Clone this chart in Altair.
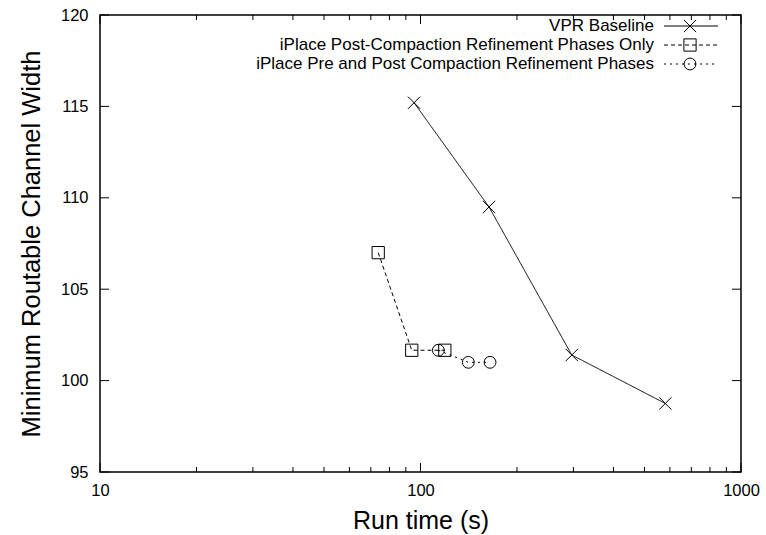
import altair as alt
import pandas as pd

# Run time (s) vs. minimum routable channel width for each placement flow
vpr_time = [95.5, 163.6, 296.5, 580.6]
vpr_width = [115.2, 109.5, 101.4, 98.75]

post_time = [73.8, 93.9, 119.1]
post_width = [107.0, 101.66, 101.66]

prepost_time = [113.7, 141.0, 164.8]
prepost_width = [101.66, 101.0, 101.0]

series_names = [
    "VPR Baseline",
    "iPlace Post-Compaction Refinement Phases Only",
    "iPlace Pre and Post Compaction Refinement Phases",
]

x_major = [10, 100, 1000]
x_minor = [20, 30, 40, 50, 60, 70, 80, 90, 200, 300, 400, 500, 600, 700, 800, 900]
y_major = [95, 100, 105, 110, 115, 120]

W, H = 641, 457
FONT = "Liberation Sans"

xscale = alt.Scale(type="log", domain=[10, 1000], nice=False)
yscale = alt.Scale(domain=[95, 120], nice=False, zero=False)

x_axis = alt.Axis(values=x_major, format="d", title="Run time (s)", ticks=False,
                  domain=False, grid=False, labelFont=FONT, labelFontSize=16.5,
                  labelColor="black", labelPadding=10, titleFont=FONT,
                  titleFontSize=25, titleFontWeight="normal", titleColor="black",
                  titlePadding=10, labelFlush=False)
y_axis = alt.Axis(values=y_major, title="Minimum Routable Channel Width", ticks=False,
                  domain=False, grid=False, labelFont=FONT, labelFontSize=16.5,
                  labelColor="black", labelPadding=12, titleFont=FONT,
                  titleFontSize=25.5, titleFontWeight="normal", titleColor="black",
                  titlePadding=16)

cross_path = "M -1 -1 L 1 1 M -1 1 L 1 -1"
styles = [
    dict(dash=[1, 0], shape=cross_path, size=150),
    dict(dash=[4, 3], shape="square", size=150),
    dict(dash=[2, 4], shape="circle", size=140),
]
times = [vpr_time, post_time, prepost_time]
widths = [vpr_width, post_width, prepost_width]

def X(field):
    return alt.X(field, scale=xscale, axis=x_axis)

def Y(field):
    return alt.Y(field, scale=yscale, axis=y_axis)

layers = []
for i, name in enumerate(series_names):
    df = pd.DataFrame({"t": times[i], "w": widths[i]})
    st = styles[i]
    enc = dict(x=X("t:Q"), y=Y("w:Q"))
    line = alt.Chart(df).mark_line(color="black", strokeWidth=1,
                                   strokeDash=st["dash"]).encode(**enc)
    pts = alt.Chart(df).mark_point(shape=st["shape"], size=st["size"],
                                   filled=False, color="black",
                                   strokeWidth=1, opacity=1).encode(**enc)
    layers += [line, pts]

# inward tick marks on all four sides
def xticks(vals, length):
    d = pd.DataFrame({"t": vals})
    bottom = alt.Chart(d).mark_rule(color="black", strokeWidth=1).encode(
        x=X("t:Q"), y=alt.value(H), y2=alt.value(H - length))
    top = alt.Chart(d).mark_rule(color="black", strokeWidth=1).encode(
        x=X("t:Q"), y=alt.value(0), y2=alt.value(length))
    return [bottom, top]

def yticks(vals, length):
    d = pd.DataFrame({"w": vals})
    left = alt.Chart(d).mark_rule(color="black", strokeWidth=1).encode(
        y=Y("w:Q"), x=alt.value(0), x2=alt.value(length))
    right = alt.Chart(d).mark_rule(color="black", strokeWidth=1).encode(
        y=Y("w:Q"), x=alt.value(W), x2=alt.value(W - length))
    return [left, right]

layers += xticks(x_major, 9) + xticks(x_minor, 5) + yticks(y_major, 9)

# key in the upper right corner: label, line sample, marker
one = alt.Data(values=[{}])
row_y = [11, 30, 49]
for i, name in enumerate(series_names):
    st = styles[i]
    layers.append(alt.Chart(one).mark_text(align="right", baseline="middle",
                                           font=FONT, fontSize=17, color="black").encode(
        x=alt.value(554), y=alt.value(row_y[i]), text=alt.value(name)))
    layers.append(alt.Chart(one).mark_rule(color="black", strokeWidth=1,
                                           strokeDash=st["dash"]).encode(
        x=alt.value(564), x2=alt.value(618), y=alt.value(row_y[i])))
    layers.append(alt.Chart(one).mark_point(shape=st["shape"], size=st["size"],
                                            filled=False, color="black",
                                            strokeWidth=1, opacity=1).encode(
        x=alt.value(590), y=alt.value(row_y[i])))

chart = alt.layer(*layers).properties(
    width=W, height=H,
    autosize=alt.AutoSizeParams(type="none"),
    padding={"left": 100, "top": 15, "right": 25, "bottom": 63},
    background="white",
).configure_view(stroke="black", strokeWidth=1.5)

chart.save("out.html", embed_options={"renderer": "svg", "actions": False})
